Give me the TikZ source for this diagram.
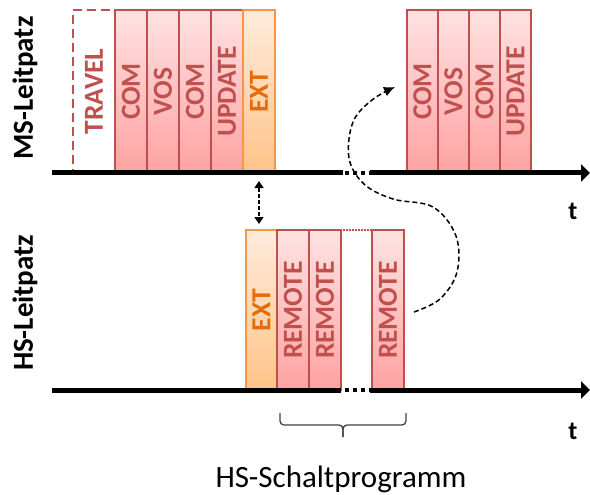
\documentclass[tikz,border=0pt]{standalone}
\usepackage{fontspec}
\setmainfont{Carlito}
\usetikzlibrary{arrows.meta}
\definecolor{boxred}{HTML}{C0504D}
\definecolor{redtop}{HTML}{FFE2E2}
\definecolor{redbot}{HTML}{FFA2A2}
\definecolor{boxorange}{HTML}{F79646}
\definecolor{txtorange}{HTML}{E46C0A}
\definecolor{orangetop}{HTML}{FFEBDC}
\definecolor{orangebot}{HTML}{FFC388}
\definecolor{bracegray}{HTML}{404040}

\begin{document}
\begin{tikzpicture}[x=1pt,y=-1pt,
  cell/.style={inner sep=0pt, outer sep=0pt, anchor=north west, line width=1.4pt},
  redcell/.style={cell, draw=boxred, top color=redtop, bottom color=redbot},
  orangecell/.style={cell, draw=boxorange, top color=orangetop, bottom color=orangebot},
  travelcell/.style={cell, draw=boxred, fill=white, dash pattern=on 9pt off 5pt},
  celltext/.style={rotate=90, inner sep=0pt, font=\bfseries\fontsize{27.5}{32}\selectfont, text=boxred},
  exttext/.style={celltext, text=txtorange},
  rowlabel/.style={rotate=90, inner sep=0pt, font=\bfseries\fontsize{29}{34}\selectfont},
  timeline/.style={line width=5pt},
  gapdots/.style={line width=4pt, dash pattern=on 4pt off 4pt},
  timearrow/.style={timeline, -{Triangle[length=9pt,width=17pt]}},
  flow/.style={line width=1.5pt, dash pattern=on 5pt off 3pt},
]
\useasboundingbox (0,0) rectangle (590,495);

% ---------- MS row ----------
\node[travelcell, minimum width=42pt, minimum height=163pt] (travel) at (73,10) {};
\node[redcell, minimum width=32pt, minimum height=163pt] (mcom1) at (115,10) {};
\node[redcell, minimum width=32pt, minimum height=163pt] (mvos)  at (147,10) {};
\node[redcell, minimum width=32pt, minimum height=163pt] (mcom2) at (179,10) {};
\node[redcell, minimum width=32pt, minimum height=163pt] (mupd)  at (211,10) {};
\node[orangecell, minimum width=32pt, minimum height=163pt] (mext) at (243,10) {};
\node[celltext] at (travel.center) {TRAVEL};
\node[celltext] at (mcom1.center) {COM};
\node[celltext] at (mvos.center) {VOS};
\node[celltext] at (mcom2.center) {COM};
\node[celltext] at (mupd.center) {UPDATE};
\node[exttext] at (mext.center) {EXT};

\node[redcell, minimum width=31pt, minimum height=163pt] (rcom1) at (407,10) {};
\node[redcell, minimum width=31pt, minimum height=163pt] (rvos)  at (438,10) {};
\node[redcell, minimum width=31pt, minimum height=163pt] (rcom2) at (469,10) {};
\node[redcell, minimum width=31pt, minimum height=163pt] (rupd)  at (500,10) {};
\node[celltext] at (rcom1.center) {COM};
\node[celltext] at (rvos.center) {VOS};
\node[celltext] at (rcom2.center) {COM};
\node[celltext] at (rupd.center) {UPDATE};

% MS time axis
\coordinate (ms0) at (52,173);
\coordinate (msa) at (343,173);
\coordinate (msb) at (370,173);
\coordinate (ms1) at (590,173);
\draw[timeline] (ms0) -- (msa);
\draw[gapdots] (msa) ++(2,0) -- (msb);
\draw[timearrow] (msb) -- (ms1);
\node[font=\bfseries\fontsize{26}{30}\selectfont] (tms) at (573,211) {t};
\node[rowlabel] (mslabel) at (25,88) {MS-Leitpatz};

% ---------- HS row ----------
\node[orangecell, minimum width=31pt, minimum height=160pt] (hext) at (246,230) {};
\node[redcell, minimum width=32pt, minimum height=160pt] (hrem1) at (277,230) {};
\node[redcell, minimum width=32pt, minimum height=160pt] (hrem2) at (309,230) {};
\node[redcell, minimum width=32pt, minimum height=160pt] (hrem3) at (372,230) {};
\node[exttext] at (hext.center) {EXT};
\node[celltext] at (hrem1.center) {REMOTE};
\node[celltext] at (hrem2.center) {REMOTE};
\node[celltext] at (hrem3.center) {REMOTE};
\draw[boxred, line width=1.4pt, dash pattern=on 1.5pt off 1.5pt] (hrem2.north east) ++(2,0) -- (hrem3.north west);

% HS time axis
\coordinate (hs0) at (52,390);
\coordinate (hsa) at (341,390);
\coordinate (hsb) at (370,390);
\coordinate (hs1) at (590,390);
\draw[timeline] (hs0) -- (hsa);
\draw[gapdots] (hsa) ++(4,0) -- (hsb);
\draw[timearrow] (hsb) -- (hs1);
\node[font=\bfseries\fontsize{26}{30}\selectfont] (ths) at (573,431) {t};
\node[rowlabel] (hslabel) at (25,303) {HS-Leitpatz};

% ---------- connectors ----------
\coordinate (sync1) at (259,181);
\coordinate (sync2) at (259,224);
\draw[line width=1.5pt, dash pattern=on 4pt off 2pt, {Triangle[length=7pt,width=9pt]}-{Triangle[length=7pt,width=9pt]}] (sync1) -- (sync2);

\coordinate (jumpfrom) at (414,312);
\coordinate (jumpto) at (395,87);
\draw[flow, -{Latex[length=11pt,width=10pt]}] plot[smooth, tension=0.6] coordinates
  {(jumpfrom) (440,299) (457,272) (456,236) (433,207) (393,199) (364,184) (349,158) (353,122) (372,100) (jumpto)};

% brace under the HS switching program
\draw[bracegray, line width=1.3pt, rounded corners=4pt] (280,413) -- (280,425) -- (343,425) -- (343,437);
\draw[bracegray, line width=1.3pt, rounded corners=4pt] (406,413) -- (406,425) -- (343,425) -- (343,437);
\node[font=\fontsize{31}{36}\selectfont, anchor=base] (prog) at (341,487) {HS-Schaltprogramm};
\end{tikzpicture}
\end{document}
